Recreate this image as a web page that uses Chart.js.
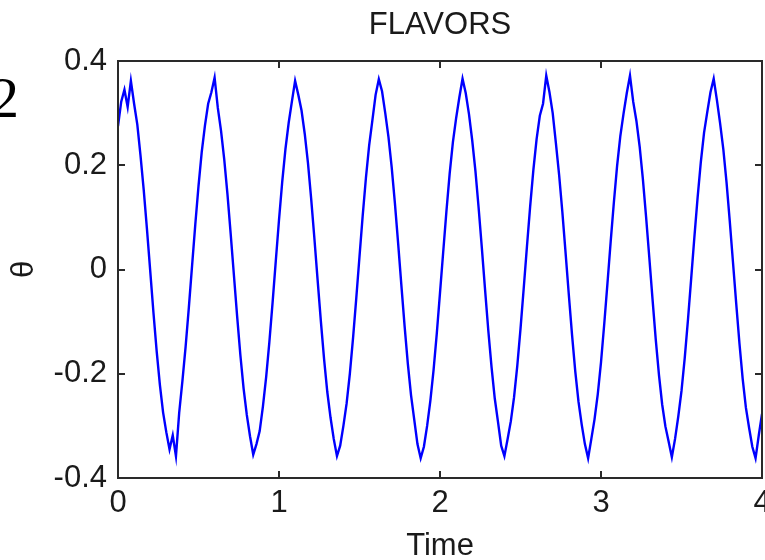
<!DOCTYPE html>
<html>
<head>
<meta charset="utf-8">
<script src="https://cdn.jsdelivr.net/npm/chart.js@4.4.1/dist/chart.umd.min.js"></script>
<style>
  html, body { margin: 0; padding: 0; background: #ffffff; }
  #wrap { position: relative; width: 765px; height: 560px; overflow: hidden; }
</style>
</head>
<body>
<div id="wrap"><canvas id="c" width="765" height="560"></canvas></div>
<script>
// ---- data ----
const chartTitle = "FLAVORS";
const xAxisTitle = "Time";
const yAxisTitle = "\u03B8";
const cornerText = "2";
const xTickValues = [0, 1, 2, 3, 4];
const xTickLabels = ["0", "1", "2", "3", "4"];
const yTickValues = [-0.4, -0.2, 0, 0.2, 0.4];
const yTickLabels = ["-0.4", "-0.2", "0", "0.2", "0.4"];
const timeStart = 0;
const timeStep = 0.02;
const thetaValues = [
  0.275, 0.322, 0.345, 0.312, 0.362, 0.318, 0.278, 0.218, 0.152, 0.077,
  -0.002, -0.082, -0.156, -0.221, -0.274, -0.312, -0.345, -0.318, -0.358, -0.275,
  -0.214, -0.148, -0.073, 0.007, 0.086, 0.160, 0.225, 0.276, 0.318, 0.340,
  0.368, 0.310, 0.266, 0.211, 0.144, 0.068, -0.011, -0.090, -0.164, -0.228,
  -0.279, -0.320, -0.355, -0.335, -0.310, -0.263, -0.207, -0.140, -0.064, 0.016,
  0.095, 0.168, 0.231, 0.281, 0.322, 0.362, 0.335, 0.305, 0.260, 0.204,
  0.135, 0.059, -0.021, -0.099, -0.172, -0.235, -0.284, -0.325, -0.358, -0.338,
  -0.300, -0.257, -0.200, -0.131, -0.055, 0.025, 0.104, 0.176, 0.238, 0.286,
  0.335, 0.365, 0.342, 0.300, 0.254, 0.196, 0.127, 0.050, -0.030, -0.108,
  -0.180, -0.241, -0.288, -0.335, -0.362, -0.340, -0.300, -0.252, -0.193, -0.123,
  -0.045, 0.034, 0.112, 0.184, 0.244, 0.290, 0.330, 0.366, 0.338, 0.298,
  0.248, 0.189, 0.118, 0.041, -0.039, -0.117, -0.187, -0.247, -0.292, -0.338,
  -0.358, -0.325, -0.291, -0.245, -0.185, -0.114, -0.036, 0.044, 0.121, 0.191,
  0.250, 0.295, 0.318, 0.372, 0.340, 0.300, 0.242, 0.181, 0.110, 0.032,
  -0.048, -0.125, -0.195, -0.253, -0.297, -0.335, -0.362, -0.325, -0.287, -0.239,
  -0.178, -0.105, -0.027, 0.053, 0.129, 0.199, 0.256, 0.299, 0.338, 0.372,
  0.322, 0.285, 0.236, 0.174, 0.101, 0.023, -0.057, -0.134, -0.202, -0.259,
  -0.301, -0.330, -0.360, -0.325, -0.282, -0.233, -0.170, -0.097, -0.018, 0.062,
  0.138, 0.206, 0.262, 0.302, 0.340, 0.366, 0.325, 0.280, 0.230, 0.166,
  0.092, 0.013, -0.066, -0.142, -0.210, -0.265, -0.304, -0.340, -0.362, -0.318,
  -0.277
];

// ---- build points ----
const points = thetaValues.map((v, i) => ({ x: +(timeStart + i * timeStep).toFixed(4), y: v }));

const FONT = "'Liberation Sans', Arial, Helvetica, sans-serif";
const TXT = "#1a1a1a";
const FS = 31;

const framePlugin = {
  id: 'frame',
  afterDatasetsDraw(chart) {
    const { ctx, chartArea: a, scales } = chart;
    ctx.save();
    ctx.strokeStyle = "#2a2a2a";
    ctx.lineWidth = 2;
    ctx.strokeRect(a.left, a.top, a.right - a.left, a.bottom - a.top);
    const tl = 7;
    ctx.beginPath();
    xTickValues.forEach(v => {
      const px = Math.round(scales.x.getPixelForValue(v));
      ctx.moveTo(px, a.bottom); ctx.lineTo(px, a.bottom - tl);
      ctx.moveTo(px, a.top); ctx.lineTo(px, a.top + tl);
    });
    yTickValues.forEach(v => {
      const py = Math.round(scales.y.getPixelForValue(v));
      ctx.moveTo(a.left, py); ctx.lineTo(a.left + tl, py);
      ctx.moveTo(a.right, py); ctx.lineTo(a.right - tl, py);
    });
    ctx.stroke();
    ctx.restore();
  },
  afterDraw(chart) {
    const ctx = chart.ctx;
    ctx.save();
    ctx.fillStyle = "#000";
    ctx.font = "58px 'Liberation Serif', 'Times New Roman', serif";
    ctx.textBaseline = "alphabetic";
    ctx.textAlign = "left";
    ctx.fillText(cornerText, -10, 117);
    ctx.restore();
  }
};

const noPad = s => { s.paddingLeft = 0; s.paddingRight = 0; s.paddingTop = 0; s.paddingBottom = 0; };

new Chart(document.getElementById('c'), {
  type: 'line',
  data: {
    datasets: [{
      data: points,
      borderColor: '#0000ff',
      borderWidth: 2.4,
      pointRadius: 0,
      fill: false,
      tension: 0
    }]
  },
  options: {
    responsive: false,
    animation: false,
    events: [],
    layout: { padding: { left: 0, right: 3, top: 0, bottom: 0 } },
    plugins: {
      legend: { display: false },
      tooltip: { enabled: false },
      title: { display: false }
    },
    scales: {
      x: {
        type: 'linear',
        position: 'bottom',
        min: 0, max: 4,
        afterBuildTicks: s => { s.ticks = xTickValues.map(v => ({ value: v })); },
        afterFit: s => { s.height = 82; noPad(s); },
        grid: { display: false, drawTicks: false },
        border: { display: false },
        ticks: {
          color: TXT,
          padding: 7,
          maxRotation: 0,
          autoSkip: false,
          font: { family: FONT, size: FS },
          callback: (v) => { const i = xTickValues.indexOf(v); return i >= 0 ? xTickLabels[i] : ''; }
        },
        title: {
          display: true,
          text: xAxisTitle,
          color: TXT,
          font: { family: FONT, size: FS },
          padding: { top: 0, bottom: -5 }
        }
      },
      xTop: {
        type: 'linear',
        position: 'top',
        min: 0, max: 4,
        afterFit: s => { s.height = 61; noPad(s); },
        grid: { display: false, drawTicks: false },
        border: { display: false },
        ticks: { display: false },
        title: {
          display: true,
          text: chartTitle,
          color: TXT,
          font: { family: FONT, size: FS },
          padding: { top: 7, bottom: 0 }
        }
      },
      y: {
        type: 'linear',
        min: -0.4, max: 0.4,
        afterBuildTicks: s => { s.ticks = yTickValues.map(v => ({ value: v })); },
        afterFit: s => { s.width = 118; noPad(s); },
        grid: { display: false, drawTicks: false },
        border: { display: false },
        ticks: {
          color: TXT,
          padding: 11,
          autoSkip: false,
          font: { family: FONT, size: FS },
          callback: (v) => {
            const i = yTickValues.findIndex(t => Math.abs(t - v) < 1e-9);
            return i >= 0 ? yTickLabels[i] : '';
          }
        },
        title: {
          display: true,
          text: yAxisTitle,
          color: TXT,
          font: { family: FONT, size: FS },
          padding: { top: 6, bottom: 0 }
        }
      }
    }
  },
  plugins: [framePlugin]
});
</script>
</body>
</html>
